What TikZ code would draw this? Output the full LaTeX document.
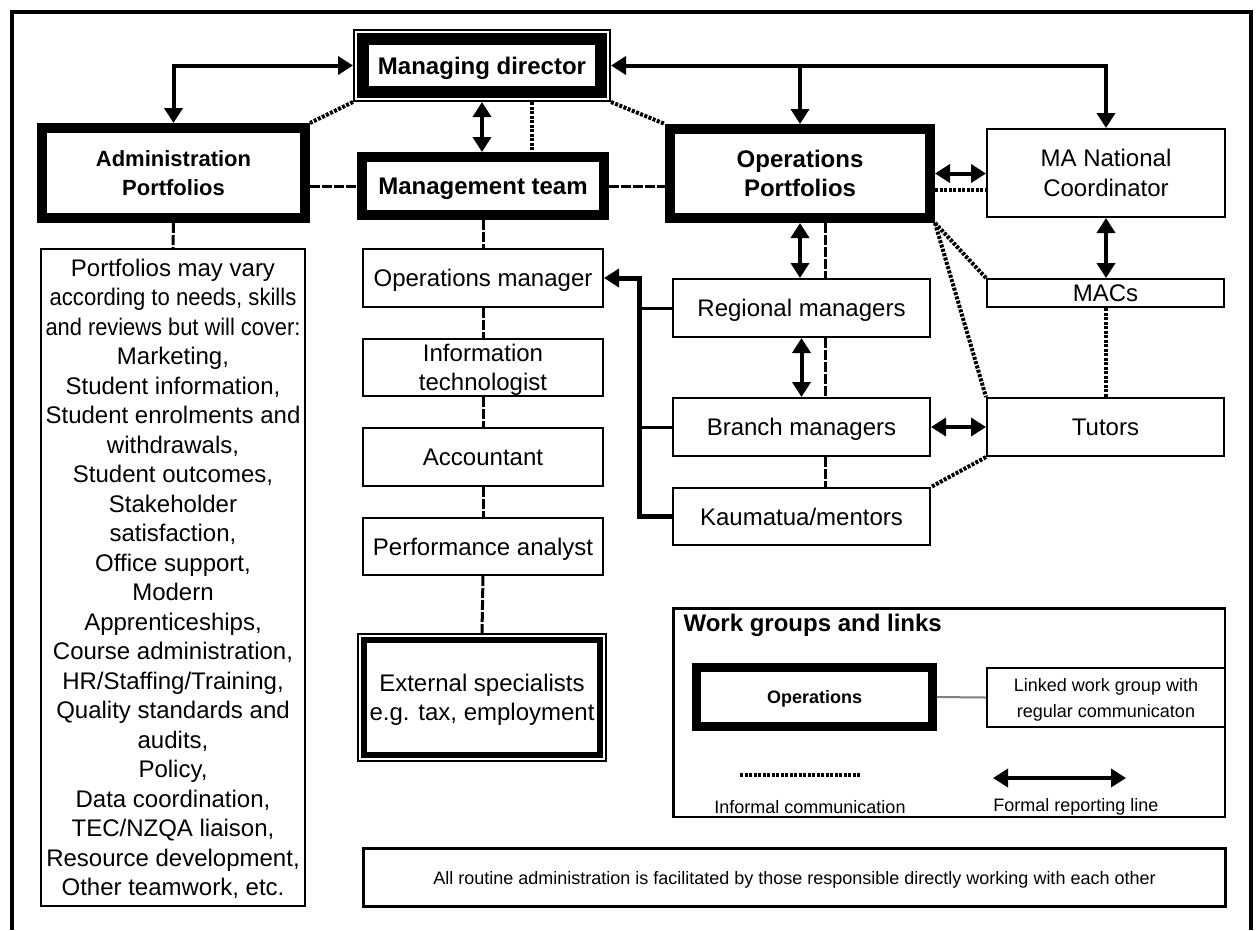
\documentclass[tikz,border=0pt]{standalone}
\usepackage{fontspec}
\setmainfont{Liberation Sans}
\usetikzlibrary{arrows.meta}

\tikzset{
    txt/.style={font=\fontsize{24}{29.5}\selectfont},
    smalltxt/.style={font=\fontsize{18}{26}\selectfont},
    thinbox/.style={draw, line width=2pt, inner sep=0pt, text depth=0pt, align=center, txt},
    heavybox/.style={draw, line width=10pt, inner sep=0pt, text depth=0pt, align=center, font=\fontsize{24}{29}\selectfont\bfseries},
    formal/.style={line width=4pt, >={Triangle[length=15pt,width=18pt]}},
    dotline/.style={line width=4pt, dash pattern=on 3pt off 1.5pt},
    dashline/.style={line width=3pt, dash pattern=on 10pt off 2pt},
}

\begin{document}
\begin{tikzpicture}[x=1pt, y=-1pt]
                \useasboundingbox (0,0) rectangle (1257,930);
                \draw[line width=4.5pt] (12,930) -- (12,12) -- (1251,12) -- (1251,930);

                \node [heavybox, line width=12pt, outer sep=10pt, minimum width=238pt, minimum height=53pt] (md) at (482,65.5) {Managing director};
                \draw[line width=2pt] ([shift={(1pt,-1pt)}]md.north west) rectangle ([shift={(-1pt,1pt)}]md.south east);
                \node [heavybox, font=\fontsize{22}{29}\selectfont\bfseries, minimum width=263pt, minimum height=90pt] (admin) at (173.5,173) {Administration\\Portfolios};
                \node [heavybox, minimum width=242pt, minimum height=58pt] (mt) at (483,186) {Management team};
                \node [heavybox, minimum width=260pt, minimum height=89pt] (ops) at (800,173.5) {Operations\\Portfolios};
                \node [thinbox, minimum width=238pt, minimum height=88pt] (manat) at (1106,173) {MA National\\Coordinator};
                \node [thinbox, minimum width=237pt, minimum height=28pt] (macs) at (1105.5,293) {MACs};
                \node [thinbox, minimum width=237pt, minimum height=58pt] (tutors) at (1105.5,427) {Tutors};

                \node [thinbox, minimum width=257pt, minimum height=58pt] (regional) at (801.5,308) {Regional managers};
                \node [thinbox, minimum width=257pt, minimum height=58pt] (branch) at (801.5,427) {Branch managers};
                \node [thinbox, minimum width=257pt, minimum height=57pt] (kaumatua) at (801.5,516.5) {Kaumatua/mentors};

                \node [thinbox, minimum width=240pt, minimum height=58pt] (opsmgr) at (483,278) {Operations manager};
                \node [thinbox, minimum width=240pt, minimum height=57pt] (infotech) at (483,367.5) {Information\\technologist};
                \node [thinbox, minimum width=240pt, minimum height=58pt] (accountant) at (483,457) {Accountant};
                \node [thinbox, minimum width=240pt, minimum height=57pt] (perf) at (483,546.5) {Performance analyst};
                \node [thinbox, line width=6pt, outer sep=7pt, minimum width=236pt, minimum height=115pt] (external) at (482,697.5) {External specialists\\e.g. tax, employment};
                \draw[line width=2pt] ([shift={(1pt,-1pt)}]external.north west) rectangle ([shift={(-1pt,1pt)}]external.south east);

                \node [thinbox, minimum width=264pt, minimum height=657pt] (plist) at (173,577.5) {Portfolios may vary\\\scalebox{0.92}[1]{according to needs, skills}\\\scalebox{0.91}[1]{and reviews but will cover:}\\Marketing,\\Student information,\\Student enrolments and\\withdrawals,\\Student outcomes,\\Stakeholder\\satisfaction,\\Office support,\\Modern\\Apprenticeships,\\Course administration,\\HR/Staffing/Training,\\Quality standards and\\audits,\\Policy,\\Data coordination,\\TEC/NZQA liaison,\\Resource development,\\Other teamwork, etc.};

                \node [draw, line width=2.5pt, inner sep=0pt, minimum width=551.5pt, minimum height=208.5pt] (legend) at (949,712.5) {};
                \node [anchor=west, font=\fontsize{24}{29}\selectfont\bfseries] (legtitle) at (680,625) {Work groups and links};
                \node [heavybox, line width=9pt, font=\fontsize{18}{26}\selectfont\bfseries, minimum width=236pt, minimum height=59pt] (legops) at (814.5,697) {Operations};
                \node [thinbox, smalltxt, minimum width=238pt, minimum height=59pt] (linked) at (1106,697.5) {Linked work group with\\regular communicaton};
                \coordinate (dashA) at (740,775);
                \coordinate (dashB) at (861,775);
                \coordinate (arrA) at (993,778);
                \coordinate (arrB) at (1126,778);
                \node [smalltxt] (inftext) at (810,807) {Informal communication};
                \node [smalltxt] (formtext) at (1076,807) {Formal reporting line};

                \node [thinbox, smalltxt, line width=3pt, minimum width=862pt, minimum height=58pt] (routine) at (794.5,877.5) {All routine administration is facilitated by those responsible directly working with each other};

                \draw[formal,<->] (md.west) -| (admin.north);
                \draw[formal,<->] (md.east) -| (manat.north);
                \draw[formal,->] (ops.north |- md.east) -- (ops.north);
                \draw[formal,<->] (md.south) -- (md.south |- mt.north);
                \draw[formal,<->] (ops.east) -- (ops.east -| manat.west);
                \draw[formal,<->] (manat.south) -- (manat.south |- macs.north);
                \draw[formal,<->] (ops.south) -- (ops.south |- regional.north);
                \draw[formal,<->] (regional.south) -- (branch.north);
                \draw[formal,<->] (branch.east) -- (tutors.west);

                \coordinate (brk) at (639,0);
                \draw[formal,<-,line width=5pt] (opsmgr.east) -| (brk |- kaumatua.west) -- (kaumatua.west);
                \foreach \n in {regional, branch}
                    \draw[line width=3pt] (brk |- \n.west) -- (\n.west);

                \draw[dotline] ([xshift=50pt]md.south) -- ([xshift=50pt]md.south |- mt.north);
                \draw[dotline] (md.south west) -- (admin.north east);
                \draw[dotline] (md.south east) -- (ops.north west);
                \draw[dotline] ([yshift=-16pt]ops.east) -- ([yshift=-16pt]ops.east -| manat.west);
                \draw[dotline] (macs.south) -- (tutors.north);
                \draw[dotline] (ops.south east) -- (macs.north west);
                \draw[dotline] (ops.south east) -- (tutors.north west);
                \draw[dotline] (tutors.south west) -- (kaumatua.north east);

                \draw[dashline] (mt.west -| admin.east) -- (mt.west);
                \draw[dashline] (mt.east) -- (mt.east -| ops.west);
                \draw[dashline] (admin.south) -- (plist.north);
                \foreach \a/\b in {mt/opsmgr, opsmgr/infotech, infotech/accountant, accountant/perf, perf/external}
                    \draw[dashline] (\a.south) -- (\b.north);
                \draw[dashline] ([xshift=25pt]ops.south) -- ([xshift=25pt]ops.south |- regional.north);
                \foreach \a/\b in {regional/branch, branch/kaumatua}
                    \draw[dashline] ([xshift=23.5pt]\a.south) -- ([xshift=23.5pt]\b.north);

                \draw[gray, line width=2pt] (legops.east) -- (linked.west);
                \draw[dotline] (dashA) -- (dashB);
                \draw[formal,<->] (arrA) -- (arrB);
            \end{tikzpicture}
\end{document}
